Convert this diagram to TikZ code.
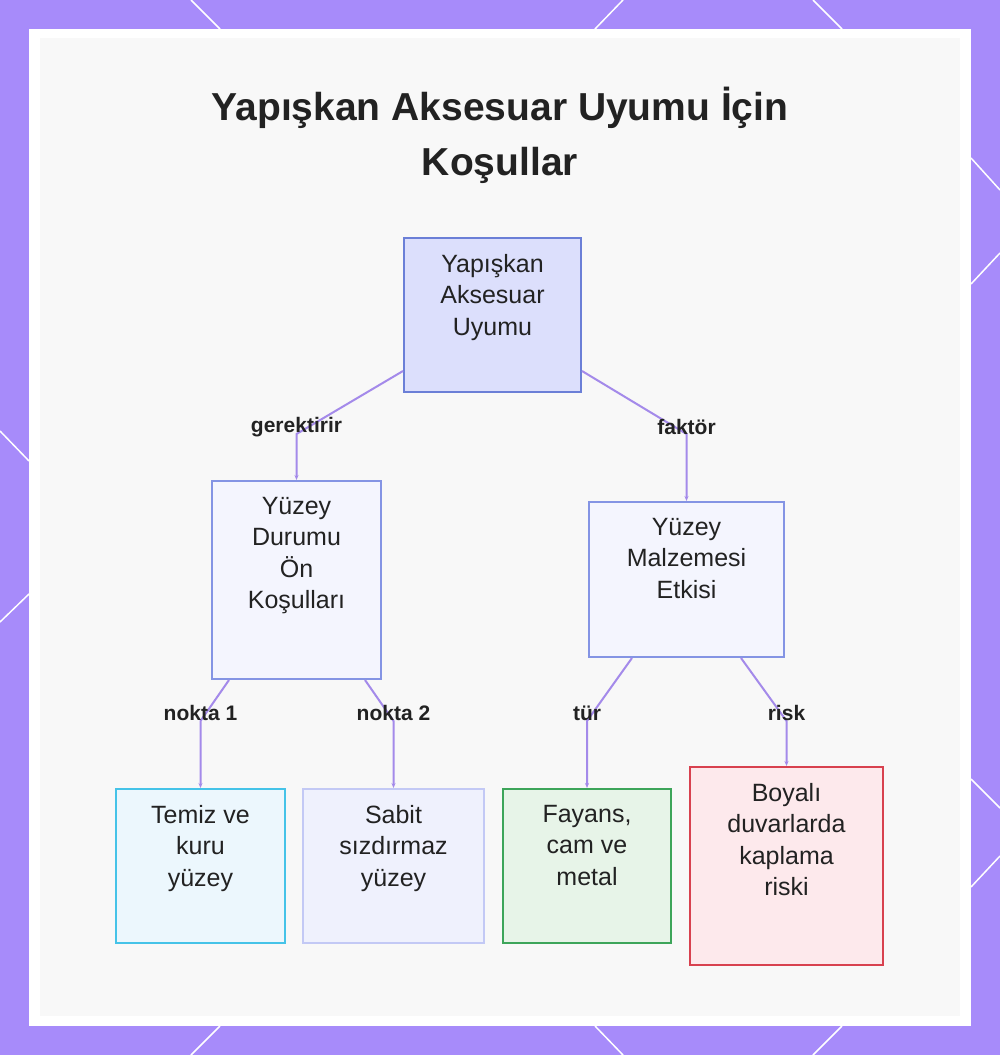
\documentclass[tikz,border=0pt]{standalone}
\usepackage{fontspec}
\setmainfont{Liberation Sans}
\usetikzlibrary{calc,arrows.meta,positioning}
\definecolor{frame-violet}{HTML}{A78BFA}
\definecolor{panel-gray}{HTML}{F8F8F8}
\definecolor{link-violet}{HTML}{A48AEA}
\definecolor{ink}{HTML}{222222}
\definecolor{root-fill}{HTML}{DCDFFC}
\definecolor{root-line}{HTML}{6B7FD7}
\definecolor{mid-fill}{HTML}{F4F5FE}
\definecolor{mid-line}{HTML}{8494E4}
\definecolor{cyan-fill}{HTML}{ECF7FD}
\definecolor{cyan-line}{HTML}{45C3E8}
\definecolor{lav-fill}{HTML}{EFF1FD}
\definecolor{lav-line}{HTML}{C3C9F5}
\definecolor{green-fill}{HTML}{E7F4E8}
\definecolor{green-line}{HTML}{3DA55A}
\definecolor{red-fill}{HTML}{FDE9EC}
\definecolor{red-line}{HTML}{D8414F}

\tikzset{
  box/.style 2 args={draw, line width=2pt, inner sep=0pt,
    minimum width=#1, minimum height=#2},
  boxtext/.style={anchor=north, align=center, inner sep=0pt, yshift=-17pt,
    text=ink, font=\fontsize{25}{31.5}\selectfont},
  link/.style={draw=link-violet, line width=2pt,
    -{Stealth[length=5pt,width=4pt]}},
  lbl/.style={text=ink, inner sep=0pt, font=\bfseries\fontsize{21}{24}\selectfont}
}

\begin{document}
\begin{tikzpicture}[x=1pt, y=-1pt]
    \useasboundingbox (0,0) rectangle (1000,1055);
    % frame and panel
    \fill[frame-violet] (0,0) rectangle (1000,1055);
    \fill[white] (29,29) rectangle (971,1026);
    \fill[panel-gray] (40,38) rectangle (960,1016);
    \foreach \xa/\ya/\xb/\yb in {191/0/220/29, 623/0/595/29, 813/0/842/29,
        971/158/1000/190, 971/284/1000/253, 971/779/1000/808, 971/887/1000/856,
        0/431/29/461, 29/594/0/622,
        220/1026/191/1055, 595/1026/623/1055, 842/1026/813/1055}
      \draw[white, line width=1.5pt] (\xa,\ya) -- (\xb,\yb);

    % title
    \node[text=ink, align=center, font=\bfseries\fontsize{39}{55}\selectfont]
      (title) at (500,135) {Yapışkan Aksesuar Uyumu İçin\\Koşullar};

    % boxes
    \node[box={177pt}{154pt}, draw=root-line, fill=root-fill,
      label={[boxtext]north:{Yapışkan\\Aksesuar\\Uyumu}}] (root) at (492.5,315) {};
    \node[box={169pt}{198pt}, draw=mid-line, fill=mid-fill,
      label={[boxtext]north:{Yüzey\\Durumu\\Ön\\Koşulları}}] (ydur) at (296.5,580) {};
    \node[box={195pt}{155pt}, draw=mid-line, fill=mid-fill,
      label={[boxtext]north:{Yüzey\\Malzemesi\\Etkisi}}] (ymal) at (686.5,579.5) {};
    \node[box={169pt}{154pt}, draw=cyan-line, fill=cyan-fill,
      label={[boxtext]north:{Temiz ve\\kuru\\yüzey}}] (temiz) at (200.5,866) {};
    \node[box={181pt}{154pt}, draw=lav-line, fill=lav-fill,
      label={[boxtext]north:{Sabit\\sızdırmaz\\yüzey}}] (sabit) at (393.5,866) {};
    \node[box={168pt}{154pt}, draw=green-line, fill=green-fill,
      label={[boxtext]north:{Fayans,\\cam ve\\metal}}] (fayans) at (587,866) {};
    \node[box={193pt}{198pt}, draw=red-line, fill=red-fill,
      label={[boxtext]north:{Boyalı\\duvarlarda\\kaplama\\riski}}] (boyali) at (786.5,866) {};

    % links
    \draw[link] ([yshift=22pt]root.south west) -- ([yshift=46pt]ydur.north)
      node[lbl, yshift=7pt] (lgerek) {gerektirir} -- (ydur.north);
    \draw[link] ([yshift=22pt]root.south east) -- ([yshift=67pt]ymal.north)
      node[lbl, yshift=7pt] (lfaktor) {faktör} -- (ymal.north);
    \draw[link] ([xshift=18pt]ydur.south west) -- ([yshift=67pt]temiz.north)
      node[lbl, yshift=8pt] (lnokta1) {nokta 1} -- (temiz.north);
    \draw[link] ([xshift=-17pt]ydur.south east) -- ([yshift=67pt]sabit.north)
      node[lbl, yshift=8pt] (lnokta2) {nokta 2} -- (sabit.north);
    \draw[link] ([xshift=44pt]ymal.south west) -- ([yshift=67pt]fayans.north)
      node[lbl, yshift=8pt] (ltur) {tür} -- (fayans.north);
    \draw[link] ([xshift=-44pt]ymal.south east) -- ([yshift=45pt]boyali.north)
      node[lbl, yshift=8pt] (lrisk) {risk} -- (boyali.north);
\end{tikzpicture}
\end{document}
